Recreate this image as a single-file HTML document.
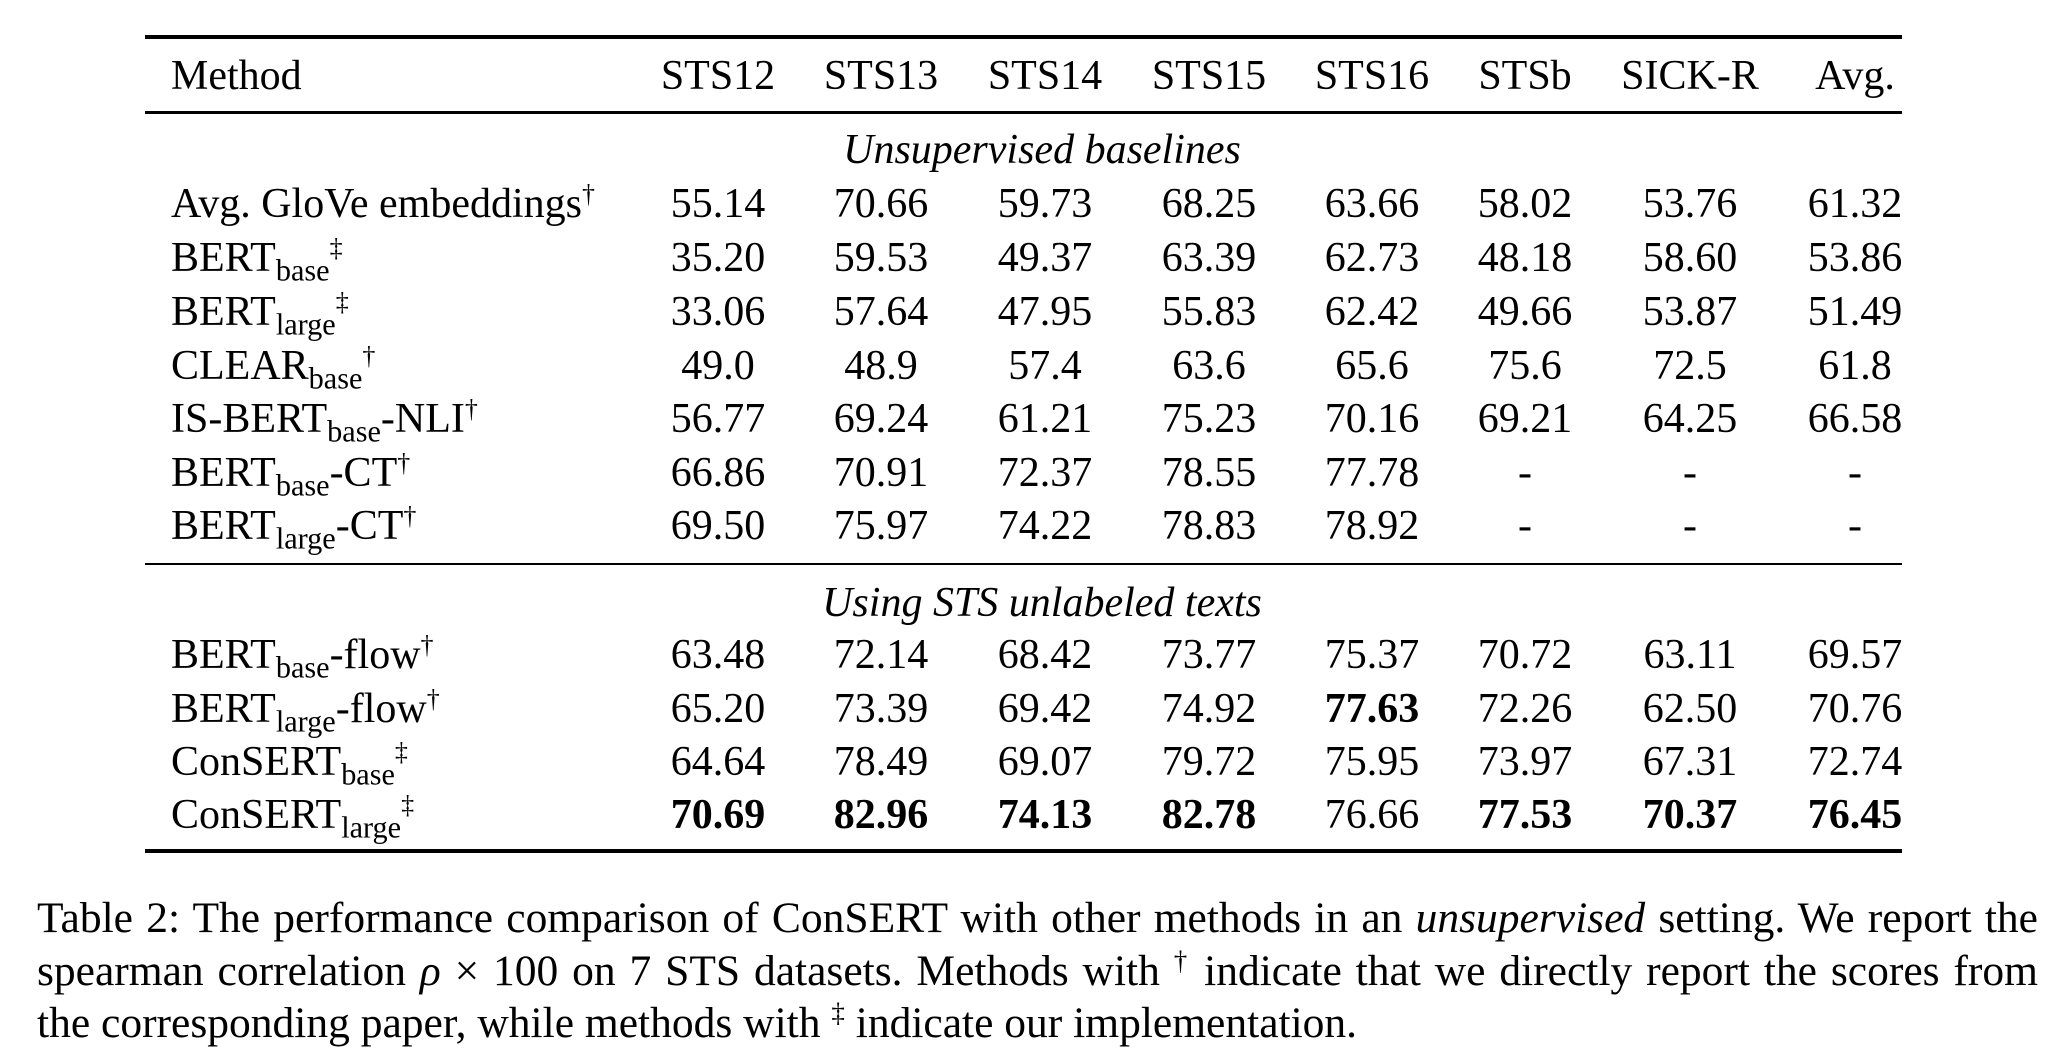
<!DOCTYPE html>
<html><head><meta charset="utf-8"><style>
body{margin:0;width:2058px;height:1056px;background:#fff;position:relative;overflow:hidden;font-family:"Liberation Serif",serif;color:#000}
.r{position:absolute;left:145px;width:1757px;background:#000}
.t{position:absolute;font-size:42px;line-height:50px;white-space:nowrap}
.c{transform:translateX(-50%)}
sub{font-size:0.72em;vertical-align:-0.32em;line-height:0}
sup{font-size:0.62em;vertical-align:0.55em;line-height:0}
b{font-weight:bold}
.cap{position:absolute;left:37px;width:2001px;font-size:43.5px;line-height:52.5px;top:892px}
.cap div{text-align:justify;text-align-last:justify;white-space:nowrap}
.cap div.l{text-align-last:left}
</style></head><body>
<div class="r" style="top:35px;height:4px"></div>
<div class="r" style="top:111px;height:3px"></div>
<div class="r" style="top:563px;height:2px"></div>
<div class="r" style="top:849px;height:4px"></div>
<div id="c"></div>
<div class="cap">
<div>Table 2: The performance comparison of ConSERT with other methods in an <i>unsupervised</i> setting. We report the</div>
<div>spearman correlation <i>ρ</i> × 100 on 7 STS datasets. Methods with <sup>†</sup> indicate that we directly report the scores from</div>
<div class="l">the corresponding paper, while methods with <sup>‡</sup> indicate our implementation.</div>
</div>
<script>
const xs=[718,881,1045,1209,1372,1525,1690,1855];
let h='';
function t(x,y,s,c){h+=`<div class="t${c?' c':''}" style="left:${x}px;top:${y-25}px">${s}</div>`;}
t(171,76,'Method');
['STS12','STS13','STS14','STS15','STS16','STSb','SICK-R','Avg.'].forEach((s,i)=>t(xs[i],76,s,1));
t(1042,150,'<i>Unsupervised baselines</i>',1);
t(1042,603,'<i>Using STS unlabeled texts</i>',1);
const rows=[
[204,'Avg. GloVe embeddings<sup>†</sup>','55.14 70.66 59.73 68.25 63.66 58.02 53.76 61.32'],
[258,'BERT<sub>base</sub><sup>‡</sup>','35.20 59.53 49.37 63.39 62.73 48.18 58.60 53.86'],
[312,'BERT<sub>large</sub><sup>‡</sup>','33.06 57.64 47.95 55.83 62.42 49.66 53.87 51.49'],
[366,'CLEAR<sub>base</sub><sup>†</sup>','49.0 48.9 57.4 63.6 65.6 75.6 72.5 61.8'],
[419,'IS-BERT<sub>base</sub>-NLI<sup>†</sup>','56.77 69.24 61.21 75.23 70.16 69.21 64.25 66.58'],
[473,'BERT<sub>base</sub>-CT<sup>†</sup>','66.86 70.91 72.37 78.55 77.78 - - -'],
[526,'BERT<sub>large</sub>-CT<sup>†</sup>','69.50 75.97 74.22 78.83 78.92 - - -'],
[655,'BERT<sub>base</sub>-flow<sup>†</sup>','63.48 72.14 68.42 73.77 75.37 70.72 63.11 69.57'],
[709,'BERT<sub>large</sub>-flow<sup>†</sup>','65.20 73.39 69.42 74.92 *77.63 72.26 62.50 70.76'],
[762,'ConSERT<sub>base</sub><sup>‡</sup>','64.64 78.49 69.07 79.72 75.95 73.97 67.31 72.74'],
[815,'ConSERT<sub>large</sub><sup>‡</sup>','*70.69 *82.96 *74.13 *82.78 76.66 *77.53 *70.37 *76.45']];
rows.forEach(r=>{t(171,r[0],r[1]);r[2].split(' ').forEach((v,i)=>{if(v[0]=='*')v='<b>'+v.slice(1)+'</b>';t(xs[i],r[0],v,1);});});
document.getElementById('c').innerHTML=h;
</script>
</body></html>
